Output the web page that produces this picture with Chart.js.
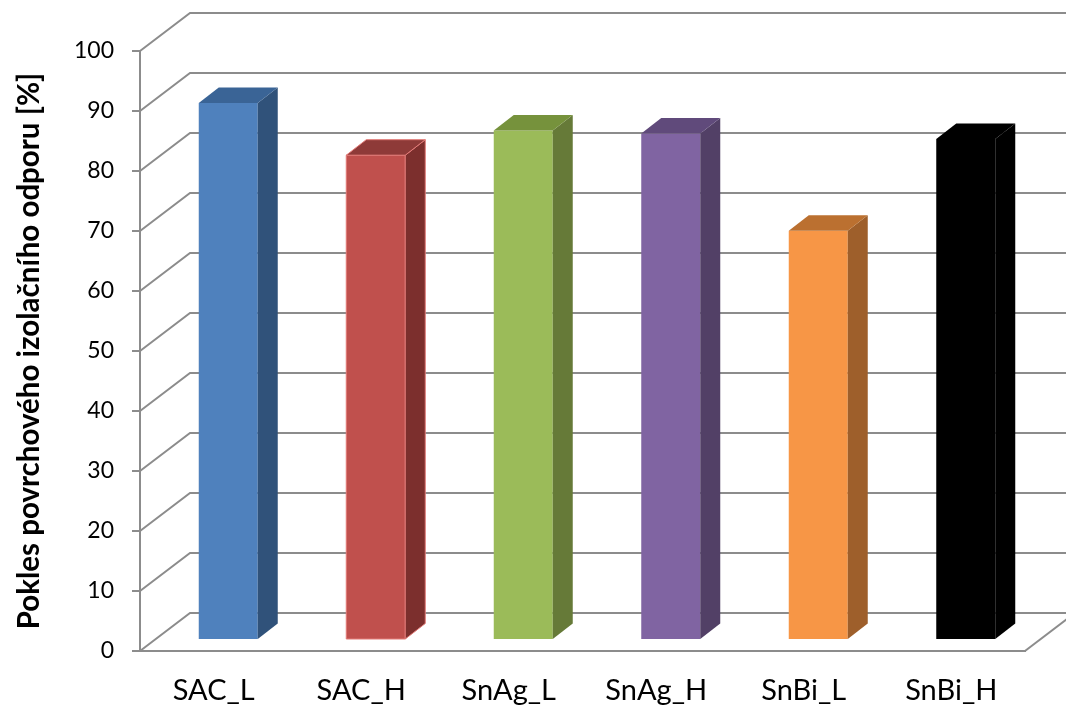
<!DOCTYPE html>
<html>
<head>
<meta charset="utf-8">
<script src="https://cdn.jsdelivr.net/npm/chart.js@4/dist/chart.umd.min.js"></script>
<style>
  html, body { margin: 0; padding: 0; background: #fff; }
  canvas { display: block; }
</style>
</head>
<body>
<canvas id="chart" width="1066" height="708"></canvas>
<script>
// kategorie a hodnoty poklesu [%]
var categories = ['SAC_L', 'SAC_H', 'SnAg_L', 'SnAg_H', 'SnBi_L', 'SnBi_H'];
var values = [89.5, 80.8, 84.9, 84.4, 68.2, 83.5];
var yTicks = [0, 10, 20, 30, 40, 50, 60, 70, 80, 90, 100];

// barvy sloupcu: celo, bok, vrch, obrys
var frontColors = ['#4F81BD', '#C0504D', '#9BBB59', '#8064A2', '#F79646', '#000000'];
var sideColors = ['#30527A', '#7C2F2D', '#667A38', '#524066', '#9E5F2B', '#000000'];
var topColors = ['#3A6496', '#8E3A38', '#76923C', '#604A7B', '#BB7030', '#000000'];
var edgeColors = [null, '#E27A77', null, null, null, null];

var gridColor = '#8C8C8C';
var fontName = 'Lato, "Open Sans", sans-serif';

// posun zadni steny a hloubka sloupcu (3D pohled)
var wallShift = { x: 50, y: -38 };
var barShift = { x: 14.5, y: -11 };
var barDepth = { x: 20, y: -15.5 };

function poly(ctx, pts, fill, edge) {
    ctx.beginPath();
    ctx.moveTo(pts[0][0], pts[0][1]);
    for (var i = 1; i < pts.length; i++) {
        ctx.lineTo(pts[i][0], pts[i][1]);
    }
    ctx.closePath();
    ctx.fillStyle = fill;
    ctx.fill();
    if (edge) {
        ctx.strokeStyle = edge;
        ctx.lineWidth = 1;
        ctx.stroke();
    }
}

var box3d = {
    id: 'box3d',
    beforeDatasetsDraw: function (chart) {
        var ctx = chart.ctx;
        var area = chart.chartArea;
        var yScale = chart.scales.y;

        ctx.save();
        // mrizka na zadni stene
        ctx.strokeStyle = gridColor;
        ctx.lineWidth = 2;
        yScale.ticks.forEach(function (t) {
            var y = yScale.getPixelForValue(t.value);
            ctx.beginPath();
            ctx.moveTo(area.left, y);
            ctx.lineTo(area.left + wallShift.x, y + wallShift.y);
            ctx.lineTo(chart.width, y + wallShift.y);
            ctx.stroke();
        });
        // pravy okraj podlahy
        ctx.beginPath();
        ctx.moveTo(area.right, area.bottom);
        ctx.lineTo(area.right + wallShift.x, area.bottom + wallShift.y);
        ctx.stroke();

        // sloupce jako kvadry
        var meta = chart.getDatasetMeta(0);
        meta.data.forEach(function (bar, i) {
            var p = bar.getProps(['x', 'y', 'base', 'width'], true);
            var x0 = p.x - p.width / 2 + barShift.x;
            var x1 = p.x + p.width / 2 + barShift.x;
            var yt = p.y + barShift.y;
            var yb = p.base + barShift.y;
            var dx = barDepth.x, dy = barDepth.y;

            poly(ctx, [[x0, yt], [x1, yt], [x1, yb], [x0, yb]], frontColors[i], edgeColors[i]);
            poly(ctx, [[x1, yt], [x1 + dx, yt + dy], [x1 + dx, yb + dy], [x1, yb]], sideColors[i], edgeColors[i]);
            poly(ctx, [[x0, yt], [x0 + dx, yt + dy], [x1 + dx, yt + dy], [x1, yt]], topColors[i], edgeColors[i]);
        });
        ctx.restore();
        return false;
    }
};

var ctx = document.getElementById('chart').getContext('2d');
new Chart(ctx, {
    type: 'bar',
    data: {
        labels: categories,
        datasets: [{
            data: values,
            backgroundColor: frontColors,
            barPercentage: 0.4,
            categoryPercentage: 1.0
        }]
    },
    options: {
        responsive: false,
        devicePixelRatio: 1,
        animation: false,
        layout: { padding: { top: 51, right: 41, left: 0, bottom: 0 } },
        plugins: {
            legend: { display: false },
            tooltip: { enabled: false }
        },
        scales: {
            x: {
                grid: { display: false, drawTicks: false },
                border: { display: true, color: gridColor, width: 2 },
                ticks: {
                    color: '#000',
                    padding: 22,
                    font: { family: fontName, size: 29 }
                },
                afterFit: function (scale) { scale.height = 57; }
            },
            y: {
                min: 0,
                max: 100,
                afterBuildTicks: function (scale) {
                    scale.ticks = yTicks.map(function (v) { return { value: v }; });
                },
                grid: {
                    drawOnChartArea: false,
                    drawTicks: true,
                    tickLength: 8,
                    color: gridColor,
                    lineWidth: 2
                },
                border: { display: true, color: gridColor, width: 2 },
                ticks: {
                    color: '#000',
                    padding: 18,
                    font: { family: fontName, size: 23 }
                },
                title: {
                    display: true,
                    text: 'Pokles povrchového izolačního odporu [%]',
                    color: '#000',
                    padding: { top: 12, bottom: 0 },
                    font: { family: fontName, size: 29.5, weight: 'bold' }
                },
                afterFit: function (scale) { scale.width = 140; }
            }
        }
    },
    plugins: [box3d]
});
</script>
</body>
</html>
